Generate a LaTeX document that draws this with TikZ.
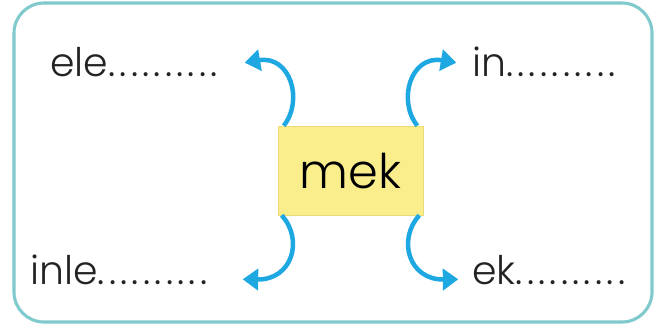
\documentclass[tikz,border=0pt]{standalone}
\usepackage{fontspec}
\setmainfont{Poppins Light}
\usetikzlibrary{calc, arrows.meta}

\newcommand{\blank}{\foreach \i in {1,...,10}{.\hspace{3pt}}}

\begin{document}
\begin{tikzpicture}[x=0.025cm, y=-0.025cm]
    \tikzset{
      frame/.style={
        draw={rgb,255:red,128;green,202;blue,206},
        line width=2.2pt, rounded corners=0.75cm,
      },
      root/.style={
        draw={rgb,255:red,236;green,218;blue,118},
        fill={rgb,255:red,250;green,237;blue,140},
        minimum width=3.625cm, minimum height=2.225cm,
        font=\fontsize{34}{34}\selectfont,
      },
      word/.style={
        anchor=base west, inner sep=0pt,
        font=\fontsize{28}{28}\selectfont,
        text={rgb,255:red,35;green,35;blue,35},
      },
      link/.style={
        -{Triangle[length=11pt, width=15pt]},
        line width=3.2pt,
        draw={rgb,255:red,30;green,168;blue,226},
      },
    }

    \useasboundingbox (0,0) rectangle (656,332);
    \draw[frame] (14,3) rectangle (652,322);

    \node[root] (mek) at (350.5,170.5) {mek};

    \node[word] (ele) at (50,76) {ele\blank};
    \node[word] (in) at (472,76) {in\blank};
    \node[word] (inle) at (30,284) {inle\blank};
    \node[word] (ek) at (472,284) {ek\blank};

    \draw[link] ($(mek.north west) + (6,0)$)
      .. controls (304,100) and (290,55) .. ($(mek.north west) + (-33,-63)$);
    \draw[link] ($(mek.north east) + (-6,0)$)
      .. controls (397,100) and (411,55) .. ($(mek.north east) + (33,-63)$);
    \draw[link] ($(mek.south west) + (4,0)$)
      .. controls (304,240) and (292,280) .. ($(mek.south west) + (-35,64)$);
    \draw[link] ($(mek.south east) + (-4,0)$)
      .. controls (397,240) and (409,280) .. ($(mek.south east) + (35,64)$);
\end{tikzpicture}
\end{document}
